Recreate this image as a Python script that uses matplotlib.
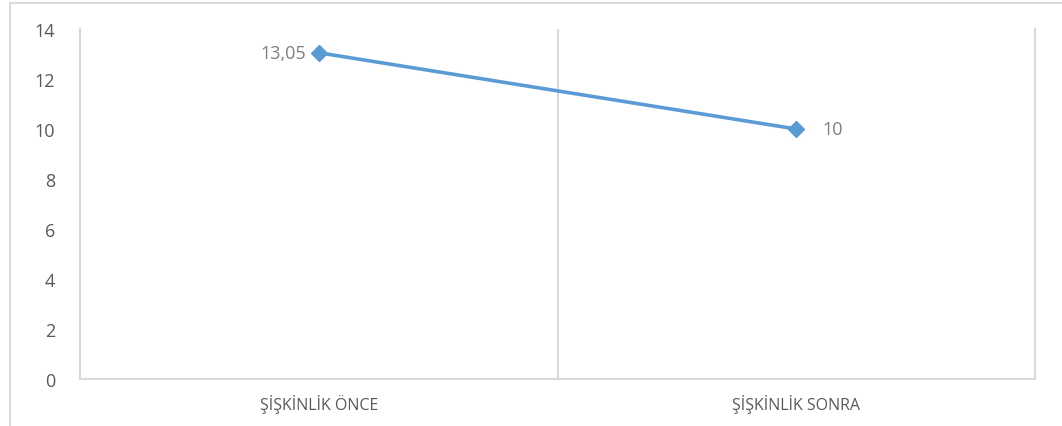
import matplotlib.pyplot as plt
from matplotlib.lines import Line2D

categories = ["ŞİŞKİNLİK ÖNCE", "ŞİŞKİNLİK SONRA"]
values = [13.05, 10]
value_labels = ["13,05", "10"]
y_ticks = [0, 2, 4, 6, 8, 10, 12, 14]

plt.rcParams['font.family'] = ['Open Sans', 'DejaVu Sans']

fig = plt.figure(figsize=(10.62, 4.27), dpi=100)
ax = fig.add_axes([80 / 1062, 1 - 380 / 427, 955 / 1062, 350 / 427])

grid_col = '#d9d9d9'
text_col = '#595959'

x = list(range(len(categories)))
ax.plot(x, values, color='#5b9bd5', linewidth=2.6, marker='D', markersize=8,
        solid_capstyle='round')

# point labels: first one sits to the left, second to the right
ax.annotate(value_labels[0], (x[0], values[0]), xytext=(-9, 0), textcoords='offset points',
            ha='right', va='center', fontsize=13, color='#7f7f7f')
ax.annotate(value_labels[1], (x[1], values[1]), xytext=(19, 0), textcoords='offset points',
            ha='left', va='center', fontsize=13, color='#7f7f7f')

ax.set_xlim(-0.5, len(categories) - 0.5)
ax.set_ylim(0, 14)
ax.set_yticks(y_ticks)
ax.set_xticks(x)
ax.set_xticklabels(categories, fontsize=11.5, color=text_col)
ax.tick_params(axis='y', length=0, pad=18, labelsize=13, labelcolor=text_col)
ax.tick_params(axis='x', length=0, pad=11)

# category separators
for b in range(1, len(categories)):
    ax.axvline(b - 0.5, color=grid_col, linewidth=1.5, zorder=0)

for side in ['left', 'bottom', 'right']:
    ax.spines[side].set_color(grid_col)
    ax.spines[side].set_linewidth(1.5)
ax.spines['top'].set_visible(False)

# outer chart border
fig.add_artist(Line2D([10 / 1062, 10 / 1062], [0, 1 - 4 / 427], transform=fig.transFigure,
                      color=grid_col, linewidth=1.5))
fig.add_artist(Line2D([10 / 1062, 1], [1 - 4 / 427, 1 - 4 / 427], transform=fig.transFigure,
                      color=grid_col, linewidth=1.5))

fig.savefig('out.png', dpi=100)
